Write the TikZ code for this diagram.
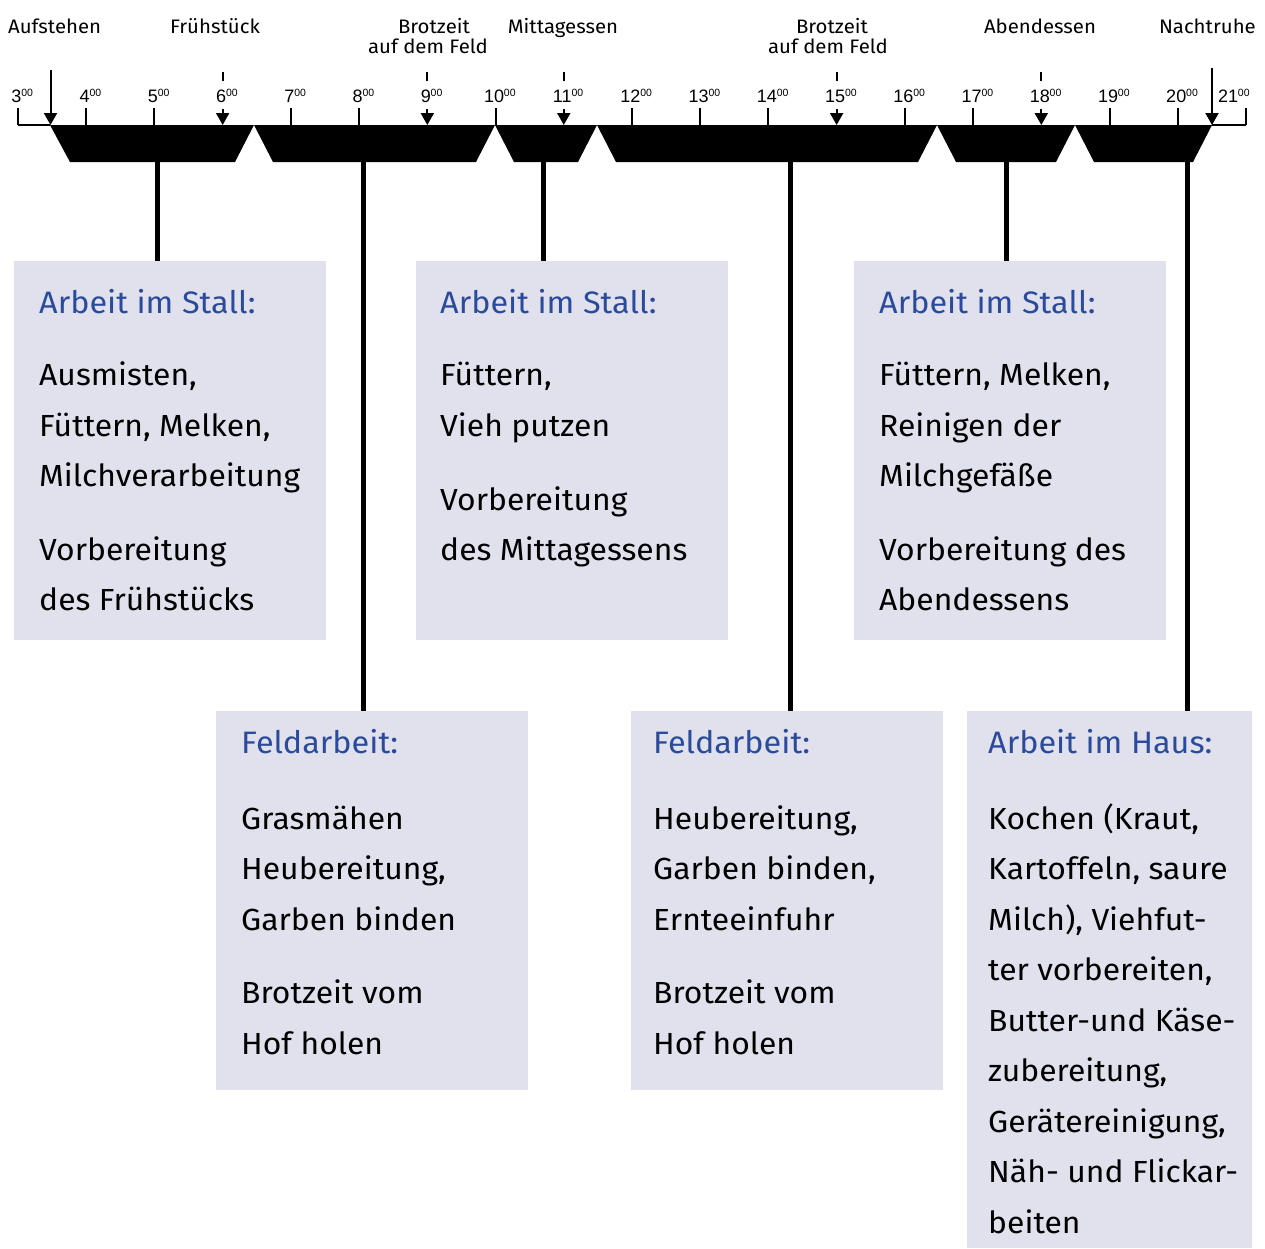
\documentclass[tikz,border=0pt]{standalone}
\usepackage{fontspec}
\setmainfont{Fira Sans}[FakeStretch=1.045]
\newfontfamily\numfont{Liberation Sans}
\usetikzlibrary{arrows.meta}
\definecolor{boxfill}{RGB}{225,225,237}
\definecolor{titleblue}{RGB}{42,74,155}
\begin{document}
\begin{tikzpicture}[x=1pt,y=-1pt,
  panel/.style={fill=boxfill, inner sep=0, anchor=north west, minimum width=312pt, minimum height=379pt},
  ttl/.style={anchor=base west, inner sep=0, text=titleblue, font=\fontsize{31}{31}\selectfont},
  body/.style={anchor=base west, inner sep=0, font=\fontsize{30.5}{30.5}\selectfont},
  evlabel/.style={anchor=base, inner sep=0, font=\fontsize{19.5}{19.5}\selectfont},
  hour/.style={anchor=base, inner sep=0, font=\numfont\fontsize{18}{18}\selectfont},
  hsup/.style={anchor=north west, inner sep=0, xshift=-0.5pt, font=\numfont\fontsize{10.5}{10.5}\selectfont},
  conn/.style={line width=5pt},
  tickline/.style={line width=2pt},
  evarrow/.style={line width=2pt, -{Triangle[width=13pt,length=12pt]}}
]
\useasboundingbox (0,0) rectangle (1265,1248);

% ---------- time bar ----------
\fill (50,125) -- (1212,125) -- (1193,162) -- (1094,162) -- (1075,125) -- (1056,162)
  -- (956,162) -- (937,125) -- (918,162) -- (616,162) -- (597,125) -- (578,162)
  -- (514,162) -- (495,125) -- (476,162) -- (273,162) -- (254,125) -- (235,162)
  -- (70,162) -- cycle;
\draw[tickline] (18,125) -- (50,125);
\draw[tickline] (1212,125) -- (1246,125);

% hour ticks
\foreach \h in {3,4,5,7,8,10,12,13,14,16,17,19,20,21}{
  \draw[tickline] ({18+(\h-3)*68.22},108) -- ({18+(\h-3)*68.22},125);
}
% hour labels
\foreach \h in {3,...,20}{
  \node[hour] (h\h) at ({16.5+(\h-3)*68.22},102) {\h};
  \node[hsup] (s\h) at (h\h.north east) {00};
}
\node[hour] (h21) at (1228,102) {21};
\node[hsup] (s21) at (h21.north east) {00};

% event arrows and marks
\foreach \h in {6,9,11,15,18}{
  \draw[tickline] ({18+(\h-3)*68.22},72) -- ({18+(\h-3)*68.22},81);
  \draw[evarrow] ({18+(\h-3)*68.22},109) -- ({18+(\h-3)*68.22},125);
}
\draw[evarrow] (50.5,70) -- (50.5,125);
\draw[evarrow] (1212,68) -- (1212,125);

% event labels
\node[evlabel, anchor=base west] (e1) at (8,33) {Aufstehen};
\node[evlabel] (e2) at (215,33) {Frühstück};
\node[evlabel] (e3a) at (434,33) {Brotzeit};
\node[evlabel] (e3b) at (428,53) {auf dem Feld};
\node[evlabel] (e4) at (563,33) {Mittagessen};
\node[evlabel] (e5a) at (832,33) {Brotzeit};
\node[evlabel] (e5b) at (828,53) {auf dem Feld};
\node[evlabel] (e6) at (1040,33) {Abendessen};
\node[evlabel, anchor=base east] (e7) at (1256,33) {Nachtruhe};

% ---------- panels ----------
\node[panel] (B1) at (14,261) {};
\node[panel] (B2) at (416,261) {};
\node[panel] (B3) at (854,261) {};
\node[panel] (B4) at (216,711) {};
\node[panel] (B5) at (631,711) {};
\node[panel, minimum width=285pt, minimum height=537pt] (B6) at (967,711) {};

% connectors
\coordinate (c1) at (157,161);
\coordinate (c2) at (363,161);
\coordinate (c3) at (543,161);
\coordinate (c4) at (790,161);
\coordinate (c5) at (1006,161);
\coordinate (c6) at (1187,161);
\draw[conn] (c1) -- (c1 |- B1.north);
\draw[conn] (c2) -- (c2 |- B4.north);
\draw[conn] (c3) -- (c3 |- B2.north);
\draw[conn] (c4) -- (c4 |- B5.north);
\draw[conn] (c5) -- (c5 |- B3.north);
\draw[conn] (c6) -- (c6 |- B6.north);

% panel 1
\node[ttl] (t1) at (39,313) {Arbeit im Stall:};
\node[body] (b1a) at (39,385) {Ausmisten,};
\node[body] (b1b) at (39,436) {Füttern, Melken,};
\node[body] (b1c) at (39,486) {Milchverarbeitung};
\node[body] (b1d) at (39,560) {Vorbereitung};
\node[body] (b1e) at (39,610) {des Frühstücks};
% panel 2
\node[ttl] (t2) at (440,313) {Arbeit im Stall:};
\node[body] (b2a) at (440,385) {Füttern,};
\node[body] (b2b) at (440,436) {Vieh putzen};
\node[body] (b2c) at (440,510) {Vorbereitung};
\node[body] (b2d) at (440,560) {des Mittagessens};
% panel 3
\node[ttl] (t3) at (879,313) {Arbeit im Stall:};
\node[body] (b3a) at (879,385) {Füttern, Melken,};
\node[body] (b3b) at (879,436) {Reinigen der};
\node[body] (b3c) at (879,486) {Milchgefäße};
\node[body] (b3d) at (879,560) {Vorbereitung des};
\node[body] (b3e) at (879,610) {Abendessens};
% panel 4
\node[ttl] (t4) at (241,753) {Feldarbeit:};
\node[body] (b4a) at (241,829) {Grasmähen};
\node[body] (b4b) at (241,879) {Heubereitung,};
\node[body] (b4c) at (241,930) {Garben binden};
\node[body] (b4d) at (241,1003) {Brotzeit vom};
\node[body] (b4e) at (241,1054) {Hof holen};
% panel 5
\node[ttl] (t5) at (653,753) {Feldarbeit:};
\node[body] (b5a) at (653,829) {Heubereitung,};
\node[body] (b5b) at (653,879) {Garben binden,};
\node[body] (b5c) at (653,930) {Ernteeinfuhr};
\node[body] (b5d) at (653,1003) {Brotzeit vom};
\node[body] (b5e) at (653,1054) {Hof holen};
% panel 6
\node[ttl] (t6) at (988,753) {Arbeit im Haus:};
\node[body] (b6a) at (988,829) {Kochen (Kraut,};
\node[body] (b6b) at (988,879) {Kartoffeln, saure};
\node[body] (b6c) at (988,930) {Milch), Viehfut-};
\node[body] (b6d) at (988,980) {ter vorbereiten,};
\node[body] (b6e) at (988,1031) {Butter-und Käse-};
\node[body] (b6f) at (988,1081) {zubereitung,};
\node[body] (b6g) at (988,1132) {Gerätereinigung,};
\node[body] (b6h) at (988,1182) {Näh- und Flickar-};
\node[body] (b6i) at (988,1233) {beiten};
\end{tikzpicture}
\end{document}
